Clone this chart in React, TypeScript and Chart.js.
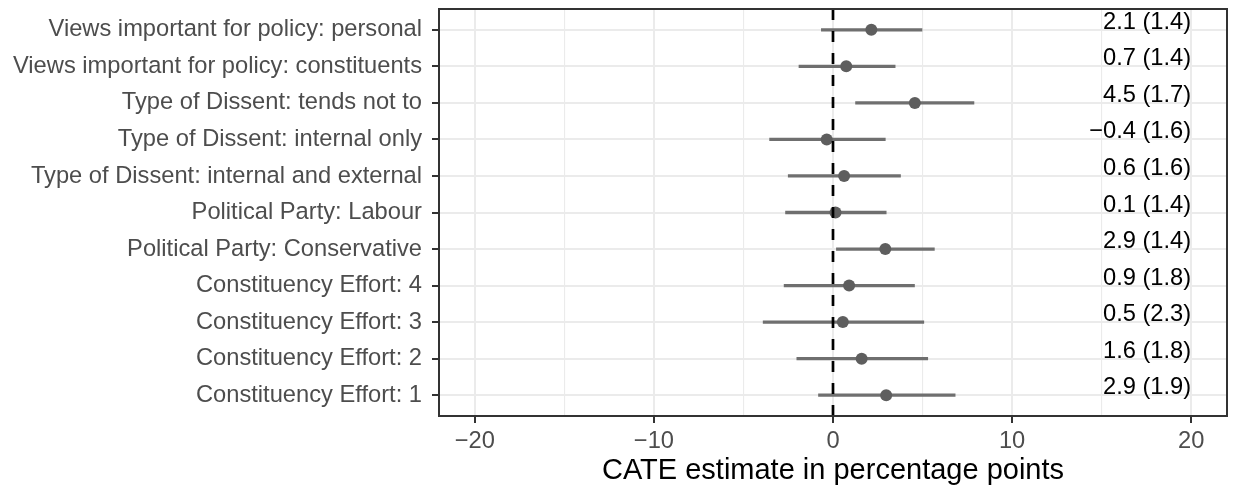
import React, { useEffect, useRef } from "react";
import { Chart, registerables } from "chart.js";

Chart.register(...registerables);

// ---- data ----
const categories = [
  "Views important for policy: personal",
  "Views important for policy: constituents",
  "Type of Dissent: tends not to",
  "Type of Dissent: internal only",
  "Type of Dissent: internal and external",
  "Political Party: Labour",
  "Political Party: Conservative",
  "Constituency Effort: 4",
  "Constituency Effort: 3",
  "Constituency Effort: 2",
  "Constituency Effort: 1",
];
const pointEstimates = [2.14, 0.74, 4.57, -0.35, 0.62, 0.14, 2.92, 0.9, 0.55, 1.6, 2.97];
const ciLower = [-0.65, -1.9, 1.26, -3.54, -2.5, -2.65, 0.19, -2.73, -3.9, -2.02, -0.81];
const ciUpper = [4.97, 3.47, 7.87, 2.92, 3.77, 2.97, 5.66, 4.55, 5.07, 5.29, 6.82];
const labelEstimates = ["2.1", "0.7", "4.5", "\u22120.4", "0.6", "0.1", "2.9", "0.9", "0.5", "1.6", "2.9"];
const labelSEs = ["1.4", "1.4", "1.7", "1.6", "1.6", "1.4", "1.4", "1.8", "2.3", "1.8", "1.9"];
const xMajorTicks = [-20, -10, 0, 10, 20];
const xMinorTicks = [-15, -5, 5, 15];
const xTitle = "CATE estimate in percentage points";
const labelAnchorX = 20;
const xMin = -22;
const xMax = 22;

const FONT = "'Liberation Sans', Arial, Helvetica, sans-serif";
const TICK_SIZE = 23.7;

const fmt = (v: number) => (v < 0 ? "\u2212" + Math.abs(v) : String(v));

export default function App() {
  const canvasRef = useRef<HTMLCanvasElement | null>(null);

  useEffect(() => {
    const canvas = canvasRef.current;
    if (!canvas) return;

    const rowValues = categories.map((_, i) => i + 1);

    const labelPlugin = {
      id: "estLabels",
      afterDatasetsDraw(chart: any) {
        const { ctx, scales } = chart;
        ctx.save();
        ctx.font = `${TICK_SIZE}px ${FONT}`;
        ctx.fillStyle = "#000000";
        ctx.textAlign = "right";
        ctx.textBaseline = "alphabetic";
        const x = scales.x.getPixelForValue(labelAnchorX);
        rowValues.forEach((v, i) => {
          const y = scales.y.getPixelForValue(v);
          ctx.fillText(`${labelEstimates[i]} (${labelSEs[i]})`, x, y - 1);
        });
        ctx.restore();
      },
    };

    const borderPlugin = {
      id: "panelBorder",
      afterDraw(chart: any) {
        const { ctx, chartArea } = chart;
        ctx.save();
        ctx.strokeStyle = "#333333";
        ctx.lineWidth = 2;
        ctx.strokeRect(
          chartArea.left,
          chartArea.top,
          chartArea.right - chartArea.left,
          chartArea.bottom - chartArea.top
        );
        ctx.restore();
      },
    };

    const chart = new Chart(canvas, {
      type: "bar",
      data: {
        datasets: [
          {
            type: "line",
            label: "zero",
            data: [
              { x: 0, y: 11.57 },
              { x: 0, y: 0.43 },
            ],
            borderColor: "#000000",
            borderWidth: 2.7,
            borderDash: [11, 11],
            pointRadius: 0,
            order: 0,
          } as any,
          {
            type: "scatter",
            label: "estimate",
            data: rowValues.map((v, i) => ({ x: pointEstimates[i], y: v })),
            pointRadius: 6,
            pointBackgroundColor: "#5e5e5e",
            pointBorderWidth: 0,
            backgroundColor: "#5e5e5e",
            order: 1,
          } as any,
          {
            type: "bar",
            label: "ci",
            indexAxis: "y",
            data: rowValues.map((v, i) => ({ x: [ciLower[i], ciUpper[i]], y: v })),
            backgroundColor: "#6f6f6f",
            borderWidth: 0,
            barThickness: 2.6,
            order: 2,
          } as any,
        ],
      },
      options: {
        animation: false,
        responsive: true,
        maintainAspectRatio: false,
        layout: { padding: { left: 0, top: 9, right: 4, bottom: 0 } },
        plugins: {
          legend: { display: false },
          tooltip: { enabled: false },
        },
        scales: {
          x: {
            type: "linear",
            min: xMin,
            max: xMax,
            offset: false,
            beginAtZero: false,
            afterBuildTicks: (scale: any) => {
              scale.ticks = [...xMajorTicks, ...xMinorTicks]
                .sort((a, b) => a - b)
                .map((v) => ({ value: v }));
            },
            afterFit: (scale: any) => {
              scale.height = 72;
              scale.paddingLeft = 0;
              scale.paddingRight = 0;
            },
            ticks: {
              autoSkip: false,
              maxRotation: 0,
              padding: 4,
              color: "#4d4d4d",
              font: { family: FONT, size: TICK_SIZE },
              callback: (v: any) => (xMajorTicks.includes(Number(v)) ? fmt(Number(v)) : ""),
            },
            grid: {
              offset: false,
              color: "#ebebeb",
              lineWidth: (ctx: any) =>
                ctx.tick && xMajorTicks.includes(ctx.tick.value) ? 2 : 1.1,
              tickLength: 7,
              tickWidth: 2,
              tickColor: (ctx: any) =>
                ctx.tick && xMajorTicks.includes(ctx.tick.value) ? "#333333" : "rgba(0,0,0,0)",
            },
            border: { display: false },
            title: {
              display: true,
              text: xTitle,
              color: "#000000",
              font: { family: FONT, size: 29 },
              padding: { top: 0, bottom: 0 },
            },
          },
          y: {
            type: "linear",
            reverse: true,
            min: 0.43,
            max: 11.57,
            offset: false,
            beginAtZero: false,
            afterBuildTicks: (scale: any) => {
              scale.ticks = rowValues.map((v) => ({ value: v }));
            },
            afterFit: (scale: any) => {
              scale.width = 439;
              scale.paddingTop = 0;
              scale.paddingBottom = 0;
            },
            ticks: {
              autoSkip: false,
              padding: 10,
              color: "#4d4d4d",
              font: { family: FONT, size: TICK_SIZE },
              callback: (v: any) => categories[Number(v) - 1] ?? "",
            },
            grid: {
              offset: false,
              color: "#ebebeb",
              lineWidth: 2,
              tickLength: 7,
              tickWidth: 2,
              tickColor: "#333333",
            },
            border: { display: false },
          },
        },
      },
      plugins: [labelPlugin, borderPlugin],
    } as any);

    return () => {
      chart.destroy();
    };
  }, []);

  return (
    <div
      style={{
        position: "fixed",
        left: 0,
        top: 0,
        width: 1233,
        height: 488,
        background: "#ffffff",
      }}
    >
      <canvas ref={canvasRef} />
    </div>
  );
}
